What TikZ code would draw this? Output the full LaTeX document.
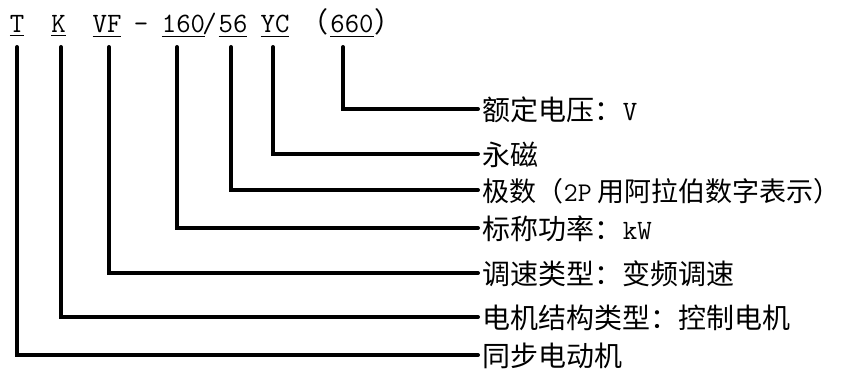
\documentclass[tikz,border=0pt]{standalone}
\usepackage{fontspec}
\newfontfamily\cjk{Noto Sans CJK SC}
\begin{document}
\begin{tikzpicture}[x=0.5pt,y=-0.5pt,
  lead/.style={line width=2pt,line cap=round},
  code/.style={anchor=base,inner sep=0pt,font=\fontsize{14pt}{16pt}\selectfont\ttfamily},
  cpar/.style={anchor=base,inner sep=0pt,font=\fontsize{14pt}{16pt}\selectfont\cjk},
  desc/.style={anchor=west,inner xsep=2.25pt,inner ysep=0pt,text height=12pt,text depth=0pt,font=\fontsize{14pt}{16pt}\selectfont\cjk}]
\useasboundingbox (0,0) rectangle (843,369);
% top row
\node[code] (tT) at (17,33) {\underline{T}};
\node[code] (tK) at (58.5,33) {\underline{K}};
\node[code] (tVF) at (107,33) {\underline{VF}};
\node[code] (tdash) at (141,33) {–};
\node[code] (t160) at (183.5,33) {\underline{160}};
\node[code] (tsl) at (209.5,33) {/};
\node[code] (t56) at (233,33) {\underline{56}};
\node[code] (tYC) at (275,33) {\underline{YC}};
\node[cpar] (tpo) at (314,33) {（};
\node[code] (t660) at (352,33) {\underline{660}};
\node[cpar] (tpc) at (388,33) {）};
% connector start points
\coordinate (aT) at (17,47);
\coordinate (aK) at (61,47);
\coordinate (aVF) at (109,47);
\coordinate (a160) at (177,47);
\coordinate (a56) at (231,47);
\coordinate (aYC) at (273,47);
\coordinate (a660) at (343,47);
% labels
\node[desc] (l660) at (478,109) {额定电压：{\ttfamily V}};
\node[desc] (lYC) at (478,154) {永磁};
\node[desc,font=\fontsize{13.5pt}{16pt}\selectfont\cjk] (l56) at (478,190) {极数（{\ttfamily 2P}\hspace{3pt}用阿拉伯数字表示）};
\node[desc] (l160) at (478,228) {标称功率：{\ttfamily kW}};
\node[desc] (lVF) at (478,273) {调速类型：变频调速};
\node[desc] (lK) at (478,317) {电机结构类型：控制电机};
\node[desc] (lT) at (478,355) {同步电动机};
% connectors
\draw[lead] (a660) |- (l660.west);
\draw[lead] (aYC) |- (lYC.west);
\draw[lead] (a56) |- (l56.west);
\draw[lead] (a160) |- (l160.west);
\draw[lead] (aVF) |- (lVF.west);
\draw[lead] (aK) |- (lK.west);
\draw[lead] (aT) |- (lT.west);
\end{tikzpicture}
\end{document}
